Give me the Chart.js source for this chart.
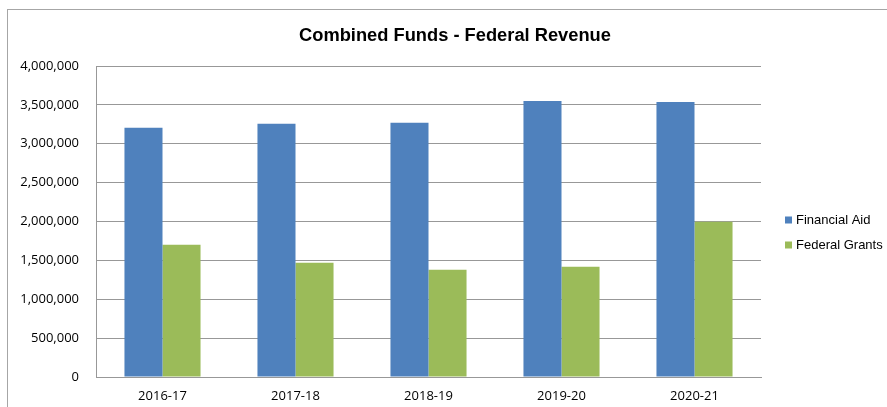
<!DOCTYPE html>
<html>
<head>
<meta charset="utf-8">
<title>Combined Funds - Federal Revenue</title>
<script src="https://cdn.jsdelivr.net/npm/chart.js@4.4.1/dist/chart.umd.min.js"></script>
<style>
  html, body { margin: 0; padding: 0; background: #fff; }
  #wrap { position: relative; width: 887px; height: 407px; }
</style>
</head>
<body>
<div id="wrap"><canvas id="fundsChart"></canvas></div>
<script>
// ===== Data =====
const years = ['2016-17', '2017-18', '2018-19', '2019-20', '2020-21'];
const financialAid = [3207000, 3258000, 3271000, 3550000, 3537000];
const federalGrants = [1702000, 1470000, 1380000, 1419000, 1998000];
const seriesNames = ['Financial Aid', 'Federal Grants'];
const seriesColors = ['#4F81BD', '#9BBB59'];
const chartTitle = 'Combined Funds - Federal Revenue';

const GRID = '#989898';

// ===== Frame, title and legend =====
const decorations = {
  id: 'decorations',
  beforeDraw(chart) {
    const ctx = chart.ctx;
    ctx.save();
    ctx.strokeStyle = '#a6a6a6';
    ctx.lineWidth = 1;
    ctx.strokeRect(7.5, 9.5, 1000, 1000);
    ctx.restore();
  },
  afterDraw(chart) {
    const ctx = chart.ctx;
    ctx.save();
    // title
    ctx.fillStyle = '#000';
    ctx.font = 'bold 18.3px "Liberation Sans", Arial, sans-serif';
    ctx.textAlign = 'center';
    ctx.textBaseline = 'middle';
    ctx.fillText(chartTitle, 455, 36);

    // legend
    ctx.font = '13px "Liberation Sans", Arial, sans-serif';
    ctx.textAlign = 'left';
    chart.data.datasets.forEach((ds, i) => {
      const y = 219.5 + i * 25;
      ctx.fillStyle = ds.backgroundColor;
      ctx.fillRect(785, y - 3, 7, 7);
      ctx.fillStyle = '#000';
      ctx.fillText(ds.label, 796, y + 1);
    });
    ctx.restore();
  }
};

// ===== Chart =====
function initFundsChart() {
  const ctx = document.getElementById('fundsChart').getContext('2d');
  new Chart(ctx, {
    type: 'bar',
    data: {
      labels: years,
      datasets: [
        { label: seriesNames[0], data: financialAid, backgroundColor: seriesColors[0] },
        { label: seriesNames[1], data: federalGrants, backgroundColor: seriesColors[1] }
      ]
    },
    options: {
      responsive: true,
      maintainAspectRatio: false,
      animation: false,
      layout: { padding: { left: 10, top: 66, right: 126, bottom: 0 } },
      datasets: {
        bar: { categoryPercentage: 0.572, barPercentage: 1, borderWidth: 0 }
      },
      plugins: {
        legend: { display: false },
        title: { display: false },
        tooltip: { enabled: false }
      },
      scales: {
        x: {
          grid: { display: false, drawTicks: false },
          border: { display: true, color: GRID, width: 1 },
          ticks: {
            color: '#000',
            padding: 11,
            font: { family: '"Open Sans", sans-serif', size: 13 }
          },
          afterFit: scale => { scale.height = 30; }
        },
        y: {
          min: 0,
          max: 4000000,
          grid: { color: GRID, lineWidth: 1, drawTicks: false },
          border: { display: true, color: GRID, width: 1 },
          ticks: {
            stepSize: 500000,
            color: '#000',
            padding: 17,
            font: { family: '"Open Sans", sans-serif', size: 13 },
            callback: v => v.toLocaleString('en-US')
          },
          afterFit: scale => { scale.width = 86; }
        }
      }
    },
    plugins: [decorations]
  });
}

document.addEventListener('DOMContentLoaded', initFundsChart);
</script>
</body>
</html>
